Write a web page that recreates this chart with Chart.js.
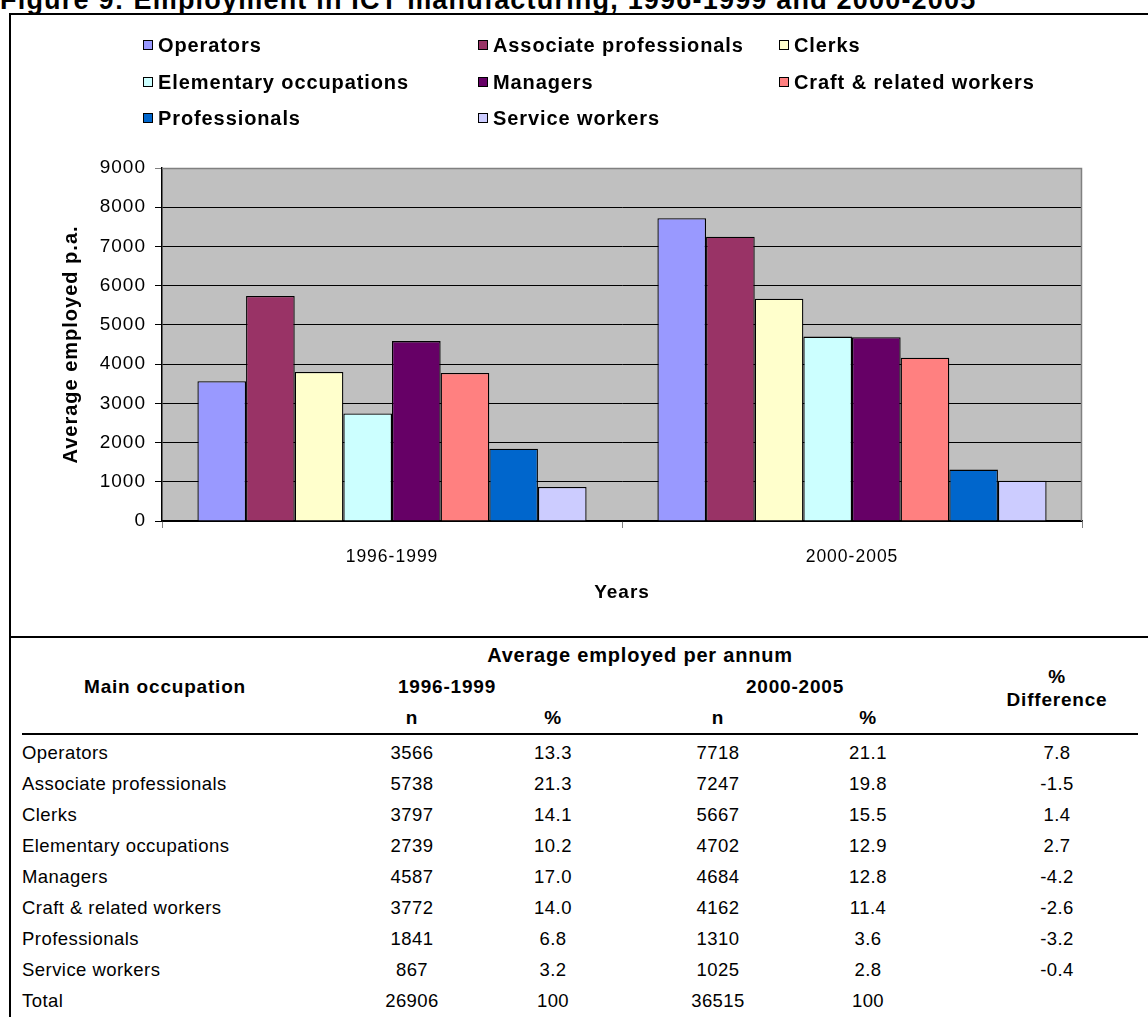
<!DOCTYPE html>
<html>
<head>
<meta charset="utf-8">
<script src="https://cdn.jsdelivr.net/npm/chart.js@4.4.1/dist/chart.umd.min.js"></script>
<style>
  html, body { margin:0; padding:0; background:#fff; }
  body { width:1148px; height:1017px; position:relative; overflow:hidden; font-family:"Liberation Sans", Arial, sans-serif; color:#000; }
  #title { position:absolute; left:0; top:-13px; font-size:27px; line-height:27px; font-weight:bold; white-space:nowrap; letter-spacing:1.2px; }
  .hline { position:absolute; background:#000; }
  #chartWrap { position:absolute; left:0; top:0; width:1148px; height:620px; }
  .leg { position:absolute; font-size:20px; font-weight:bold; white-space:nowrap; letter-spacing:0.9px; line-height:22px; }
  .leg i { position:absolute; left:0; top:6px; width:8px; height:8px; border:1px solid #000; }
  .leg span { position:absolute; left:15px; top:0; }
  .cell { position:absolute; font-size:18.5px; white-space:nowrap; line-height:20px; letter-spacing:0.45px; }
  .b { font-weight:bold; font-size:19px; letter-spacing:0.8px; }
  .big { font-size:20px; }
</style>
</head>
<body>
<div id="title">Figure 9: Employment in ICT manufacturing, 1996-1999 and 2000-2005</div>
<div id="chartWrap"><canvas id="c" width="1148" height="620"></canvas></div>
<div id="legend"></div>
<div id="table"></div>
<div class="hline" style="left:9px;top:14px;width:2px;height:1003px;"></div>
<div class="hline" style="left:9px;top:13px;width:1139px;height:2px;"></div>
<div class="hline" style="left:9px;top:636px;width:1139px;height:2px;"></div>
<div class="hline" style="left:22px;top:733px;width:1116px;height:2px;"></div>
<script>
// ---- data ----
const periods = ['1996-1999', '2000-2005'];
const occupations = ['Operators', 'Associate professionals', 'Clerks', 'Elementary occupations',
                     'Managers', 'Craft & related workers', 'Professionals', 'Service workers'];
const n1996 = [3566, 5738, 3797, 2739, 4587, 3772, 1841, 867];
const pct1996 = ['13.3', '21.3', '14.1', '10.2', '17.0', '14.0', '6.8', '3.2'];
const n2000 = [7718, 7247, 5667, 4702, 4684, 4162, 1310, 1025];
const pct2000 = ['21.1', '19.8', '15.5', '12.9', '12.8', '11.4', '3.6', '2.8'];
const pctDiff = ['7.8', '-1.5', '1.4', '2.7', '-4.2', '-2.6', '-3.2', '-0.4'];
const totals = { n1996: 26906, pct1996: '100', n2000: 36515, pct2000: '100' };
const yTicks = [0, 1000, 2000, 3000, 4000, 5000, 6000, 7000, 8000, 9000];

// ---- styles ----
const colors = ['#9999FF', '#993366', '#FFFFCC', '#CCFFFF', '#660066', '#FF8080', '#0066CC', '#CCCCFF'];
const FONT = '"Liberation Sans", Arial, sans-serif';

// legend (3 columns, row-major like Excel)
const legCols = [143, 478, 779];
const legRows = [34, 71, 107];
const legend = document.getElementById('legend');
occupations.forEach((name, i) => {
  const d = document.createElement('div');
  d.className = 'leg';
  d.style.left = legCols[i % 3] + 'px';
  d.style.top = legRows[Math.floor(i / 3)] + 'px';
  d.innerHTML = '<i style="background:' + colors[i] + '"></i><span></span>';
  d.querySelector('span').textContent = name;
  legend.appendChild(d);
});

// table
const table = document.getElementById('table');
function cell(text, x, y, align, cls) {
  const d = document.createElement('div');
  d.className = 'cell' + (cls ? ' ' + cls : '');
  d.textContent = text;
  d.style.top = (y - 10) + 'px';
  if (align === 'left') { d.style.left = x + 'px'; }
  else { d.style.left = (x - 200) + 'px'; d.style.width = '400px'; d.style.textAlign = 'center'; }
  table.appendChild(d);
}
const colX = [412, 553, 718, 868, 1057];
cell('Average employed per annum', 640, 655, 'center', 'b big');
cell('Main occupation', 165, 687, 'center', 'b');
cell(periods[0], 447, 687, 'center', 'b');
cell(periods[1], 795, 687, 'center', 'b');
cell('%', colX[4], 677, 'center', 'b');
cell('Difference', colX[4], 700, 'center', 'b');
cell('n', colX[0], 718, 'center', 'b');
cell('%', colX[1], 718, 'center', 'b');
cell('n', colX[2], 718, 'center', 'b');
cell('%', colX[3], 718, 'center', 'b');
const row0 = 753, rowH = 31;
occupations.forEach((name, i) => {
  const y = row0 + i * rowH;
  cell(name, 22, y, 'left');
  cell(String(n1996[i]), colX[0], y, 'center');
  cell(pct1996[i], colX[1], y, 'center');
  cell(String(n2000[i]), colX[2], y, 'center');
  cell(pct2000[i], colX[3], y, 'center');
  cell(pctDiff[i], colX[4], y, 'center');
});
const yT = row0 + occupations.length * rowH;
cell('Total', 22, yT, 'left');
cell(String(totals.n1996), colX[0], yT, 'center');
cell(totals.pct1996, colX[1], yT, 'center');
cell(String(totals.n2000), colX[2], yT, 'center');
cell(totals.pct2000, colX[3], yT, 'center');

// chart
const LS = '1px';
const plotBg = {
  id: 'plotBg',
  beforeUpdate(c) { c.ctx.letterSpacing = LS; },
  beforeDraw(c) {
    const { ctx, chartArea: a } = c;
    ctx.letterSpacing = LS;
    ctx.save();
    ctx.fillStyle = '#C0C0C0';
    ctx.fillRect(a.left, a.top, a.right - a.left, a.bottom - a.top);
    ctx.restore();
  },
  afterDatasetsDraw(c) {
    const { ctx, chartArea: a } = c;
    ctx.save();
    ctx.strokeStyle = '#808080';
    ctx.lineWidth = 1.5;
    ctx.beginPath();
    ctx.moveTo(a.left, a.top + 0.5);
    ctx.lineTo(a.right - 0.5, a.top + 0.5);
    ctx.lineTo(a.right - 0.5, a.bottom);
    ctx.stroke();
    ctx.restore();
  }
};

new Chart(document.getElementById('c'), {
  type: 'bar',
  data: {
    labels: periods,
    datasets: occupations.map((name, i) => ({
      label: name,
      data: [n1996[i], n2000[i]],
      backgroundColor: colors[i],
      borderColor: '#000',
      borderWidth: 1.3,
      barPercentage: 1,
      categoryPercentage: 0.846
    }))
  },
  options: {
    responsive: false,
    animation: false,
    layout: { padding: { left: 50, top: 168, right: 66, bottom: 0 } },
    plugins: { legend: { display: false }, tooltip: { enabled: false } },
    scales: {
      x: {
        grid: { display: true, drawOnChartArea: false, tickLength: 7, color: '#808080', offset: true },
        border: { color: '#000', width: 1.5 },
        ticks: { color: '#000', font: { family: FONT, size: 17.5 }, padding: 19 },
        title: { display: true, text: 'Years', color: '#000', font: { family: FONT, size: 19, weight: 'bold' }, padding: { top: 0, bottom: 16 } },
        afterFit(s) { s.height = 99; }
      },
      y: {
        min: 0, max: 9000,
        afterBuildTicks(s) { s.ticks = yTicks.map(v => ({ value: v })); },
        grid: { color: (ctx) => ctx.tick && ctx.tick.value === 9000 ? '#808080' : '#000', tickLength: 7, lineWidth: 1 },
        border: { color: '#000', width: 1.5 },
        ticks: { color: '#000', font: { family: FONT, size: 19 }, padding: 9, callback: (v) => String(v) },
        title: { display: true, text: 'Average employed p.a.', color: '#000', font: { family: FONT, size: 20, weight: 'bold' }, padding: { top: 9, bottom: 0 } },
        afterFit(s) { s.width = 112; }
      }
    }
  },
  plugins: [plotBg]
});
</script>
</body>
</html>
